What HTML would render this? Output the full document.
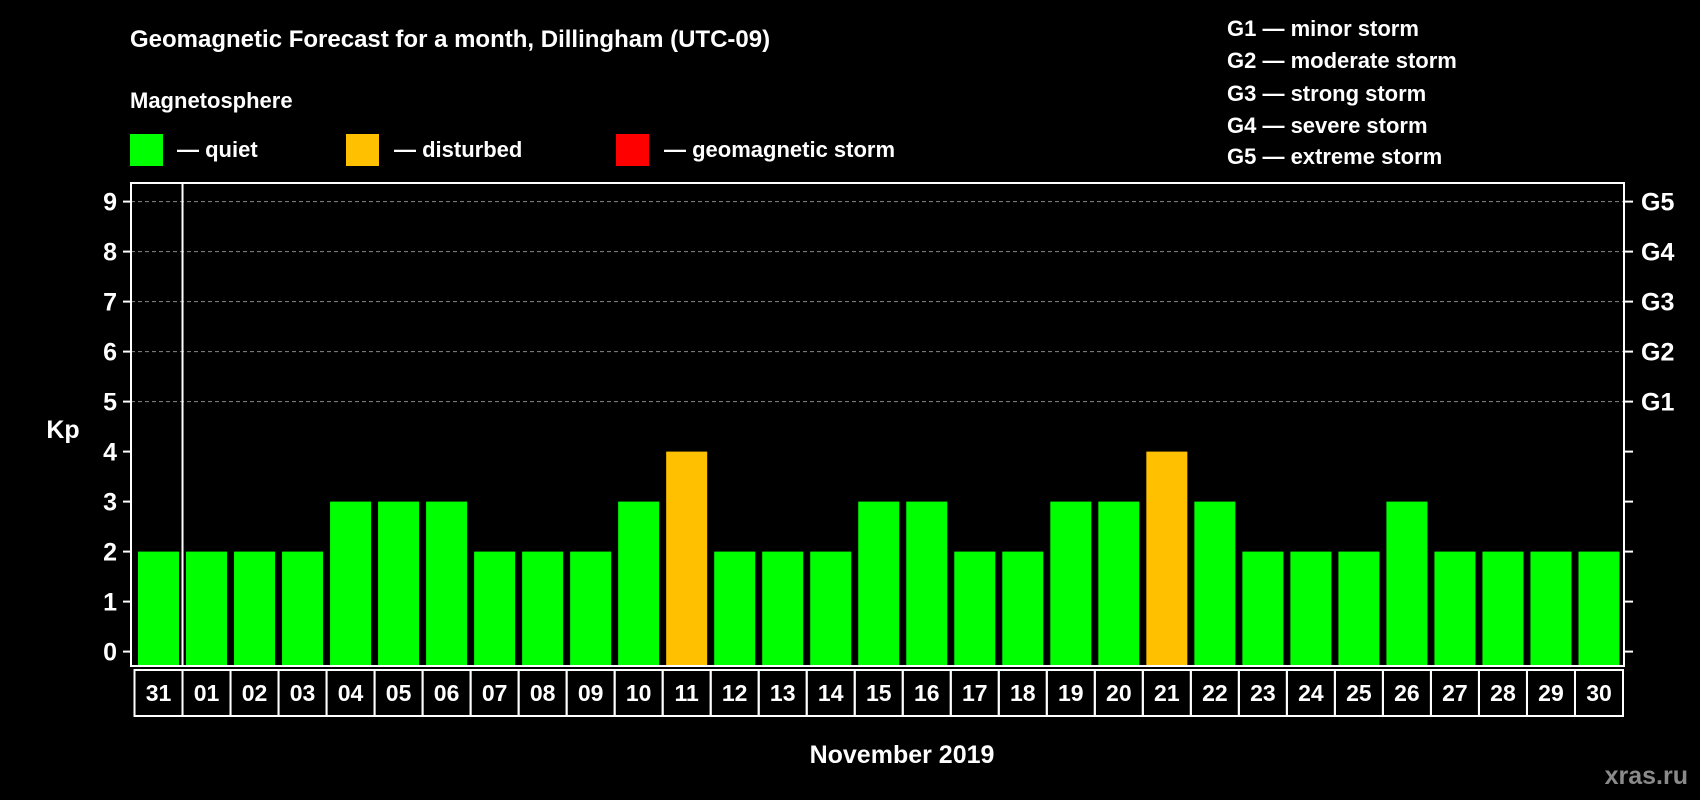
<!DOCTYPE html>
<html><head><meta charset="utf-8"><style>
html,body{margin:0;padding:0;background:#000;}
svg{display:block;font-family:"Liberation Sans",Arial,sans-serif;font-weight:bold;}
</style></head><body>
<svg id="chart" width="1700" height="800" viewBox="0 0 1700 800">
<rect width="1700" height="800" fill="#000"/>
<text x="130" y="47" fill="#fff" font-size="24">Geomagnetic Forecast for a month, Dillingham (UTC-09)</text>
<text x="130" y="108" fill="#fff" font-size="22">Magnetosphere</text>
<g><rect x="130" y="134" width="33" height="32" fill="#00ff00"/><text x="177" y="157" fill="#fff" font-size="22">— quiet</text></g>
<g><rect x="346" y="134" width="33" height="32" fill="#ffc000"/><text x="394" y="157" fill="#fff" font-size="22">— disturbed</text></g>
<g><rect x="616" y="134" width="33" height="32" fill="#ff0000"/><text x="664" y="157" fill="#fff" font-size="22">— geomagnetic storm</text></g>
<g fill="#fff" font-size="22">
<text x="1227" y="36">G1 — minor storm</text>
<text x="1227" y="68">G2 — moderate storm</text>
<text x="1227" y="101">G3 — strong storm</text>
<text x="1227" y="133">G4 — severe storm</text>
<text x="1227" y="164">G5 — extreme storm</text>
</g>
<text x="63" y="438" fill="#fff" font-size="25" text-anchor="middle">Kp</text>
<text x="902" y="763" fill="#fff" font-size="25" text-anchor="middle">November 2019</text>
<text x="1688" y="784" fill="#8a8a8a" font-size="25" text-anchor="end">xras.ru</text>
<g id="grid"></g><g id="bars"></g><g id="axes"></g>
</svg>
<script>
const days=["31","01","02","03","04","05","06","07","08","09","10","11","12","13","14","15","16","17","18","19","20","21","22","23","24","25","26","27","28","29","30"];
const kp=[2,2,2,2,3,3,3,2,2,2,3,4,2,2,2,3,3,2,2,3,3,4,3,2,2,2,3,2,2,2,2];
const yTicks=[0,1,2,3,4,5,6,7,8,9];
const gLabels=["G1","G2","G3","G4","G5"];
const gLevels=[5,6,7,8,9];
const NS="http://www.w3.org/2000/svg";
const L=131,R=1624,T=183,B=666,slot0=134.5,slotW=(1623-134.5)/31;
function y(v){return 651.6-v*50;}
function x(i){return slot0+i*slotW;}
function mk(tag,attrs,parent){const e=document.createElementNS(NS,tag);for(const k in attrs)e.setAttribute(k,attrs[k]);parent.appendChild(e);return e;}
const grid=document.getElementById('grid'),bars=document.getElementById('bars'),axes=document.getElementById('axes');
gLevels.forEach((v,i)=>{
 const ln=mk('line',{x1:L,x2:R,y1:y(v),y2:y(v),stroke:'#888','stroke-dasharray':'4,3','stroke-width':1},grid);
 
 
 const t=mk('text',{x:1641,y:y(v)+9,fill:'#fff','font-size':25},axes);t.textContent=gLabels[i];
 
 
});
kp.forEach((v,i)=>{
 const col=v>=5?'#ff0000':(v>=4?'#ffc000':'#00ff00');
 const r=mk('rect',{x:x(i)+3.5,y:y(v),width:slotW-7,height:B-y(v),fill:col},bars);
 
 
 const b=mk('rect',{x:x(i),y:670,width:slotW,height:46,fill:'none',stroke:'#fff','stroke-width':2},axes);
 
 
 const t=mk('text',{x:x(i)+slotW/2,y:701,fill:'#fff','font-size':23,'text-anchor':'middle'},axes);t.textContent=days[i];
 
 
});
yTicks.forEach(v=>{
 mk('line',{x1:123,x2:L,y1:y(v),y2:y(v),stroke:'#fff','stroke-width':2},axes);
 mk('line',{x1:R,x2:1633,y1:y(v),y2:y(v),stroke:'#fff','stroke-width':2},axes);
 const t=mk('text',{x:117,y:y(v)+9,fill:'#fff','font-size':25,'text-anchor':'end'},axes);t.textContent=v;
 
 
});
const fr=mk('rect',{x:L,y:T,width:R-L,height:B-T,fill:'none',stroke:'#fff','stroke-width':2},axes);


const sep=mk('line',{x1:x(1),x2:x(1),y1:T,y2:B,stroke:'#fff','stroke-width':2},axes);


</script>
</body></html>
